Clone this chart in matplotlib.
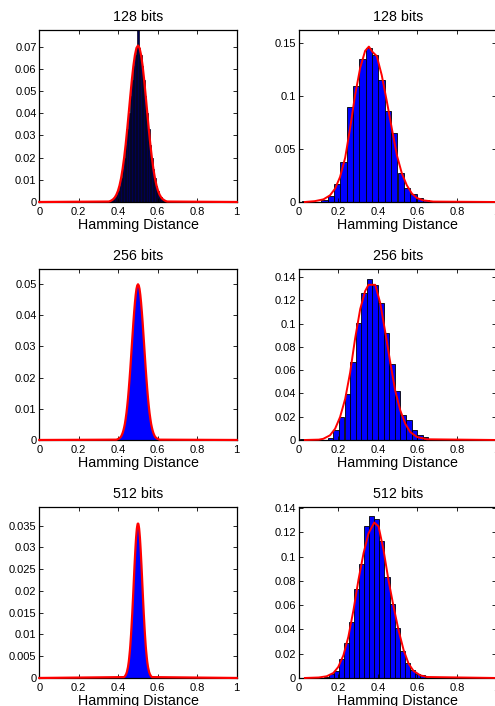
import matplotlib.pyplot as plt
import numpy as np
from matplotlib.ticker import FormatStrFormatter

plt.rcParams['font.family'] = ['Liberation Sans', 'DejaVu Sans']

titles = ['128 bits', '256 bits', '512 bits']
n_bits = [128, 256, 512]
k_first = [45, 100, 220]   # first bit count shown in each fine histogram

# left column: fraction of pairs at each Hamming distance k/n
h128 = [0.0002, 0.0004, 0.0008, 0.0013, 0.0021, 0.0033, 0.0050, 0.0074, 0.0106, 0.0148,
        0.0199, 0.0259, 0.0328, 0.0402, 0.0477, 0.0549, 0.0613, 0.0662, 0.0694, 0.0780,
        0.0694, 0.0662, 0.0613, 0.0549, 0.0477, 0.0402, 0.0328, 0.0259, 0.0199, 0.0148,
        0.0106, 0.0074, 0.0050, 0.0033, 0.0021, 0.0013, 0.0008, 0.0004, 0.0002]
fit128 = [0.0002, 0.0004, 0.0008, 0.0013, 0.0021, 0.0033, 0.0050, 0.0074, 0.0106, 0.0148,
          0.0199, 0.0259, 0.0328, 0.0402, 0.0477, 0.0549, 0.0613, 0.0662, 0.0694, 0.0705,
          0.0694, 0.0662, 0.0613, 0.0549, 0.0477, 0.0402, 0.0328, 0.0259, 0.0199, 0.0148,
          0.0106, 0.0074, 0.0050, 0.0033, 0.0021, 0.0013, 0.0008, 0.0004, 0.0002]

h256 = [0.0001, 0.0002, 0.0003, 0.0004, 0.0006, 0.0008, 0.0011, 0.0016, 0.0022, 0.0030,
        0.0040, 0.0052, 0.0068, 0.0086, 0.0108, 0.0133, 0.0162, 0.0194, 0.0228, 0.0265,
        0.0303, 0.0340, 0.0377, 0.0410, 0.0440, 0.0465, 0.0484, 0.0495, 0.0505, 0.0495,
        0.0484, 0.0465, 0.0440, 0.0410, 0.0377, 0.0340, 0.0303, 0.0265, 0.0228, 0.0194,
        0.0162, 0.0133, 0.0108, 0.0086, 0.0068, 0.0052, 0.0040, 0.0030, 0.0022, 0.0016,
        0.0011, 0.0008, 0.0006, 0.0004, 0.0003, 0.0002, 0.0001]
fit256 = [0.0001, 0.0002, 0.0003, 0.0004, 0.0006, 0.0008, 0.0011, 0.0016, 0.0022, 0.0030,
          0.0040, 0.0052, 0.0068, 0.0086, 0.0108, 0.0133, 0.0162, 0.0194, 0.0228, 0.0265,
          0.0303, 0.0340, 0.0377, 0.0410, 0.0440, 0.0465, 0.0484, 0.0495, 0.0499, 0.0495,
          0.0484, 0.0465, 0.0440, 0.0410, 0.0377, 0.0340, 0.0303, 0.0265, 0.0228, 0.0194,
          0.0162, 0.0133, 0.0108, 0.0086, 0.0068, 0.0052, 0.0040, 0.0030, 0.0022, 0.0016,
          0.0011, 0.0008, 0.0006, 0.0004, 0.0003, 0.0002, 0.0001]

h512 = [0.0002, 0.0003, 0.0004, 0.0005, 0.0007, 0.0008, 0.0011, 0.0013, 0.0017, 0.0021,
        0.0025, 0.0031, 0.0037, 0.0045, 0.0054, 0.0063, 0.0074, 0.0087, 0.0100, 0.0115,
        0.0131, 0.0147, 0.0165, 0.0183, 0.0202, 0.0221, 0.0240, 0.0259, 0.0276, 0.0293,
        0.0308, 0.0322, 0.0333, 0.0343, 0.0349, 0.0354, 0.0360, 0.0354, 0.0349, 0.0343,
        0.0333, 0.0322, 0.0308, 0.0293, 0.0276, 0.0259, 0.0240, 0.0221, 0.0202, 0.0183,
        0.0165, 0.0147, 0.0131, 0.0115, 0.0100, 0.0087, 0.0074, 0.0063, 0.0054, 0.0045,
        0.0037, 0.0031, 0.0025, 0.0021, 0.0017, 0.0013, 0.0011, 0.0008, 0.0007, 0.0005,
        0.0004, 0.0003, 0.0002]
fit512 = [0.0002, 0.0003, 0.0004, 0.0005, 0.0007, 0.0008, 0.0011, 0.0013, 0.0017, 0.0021,
          0.0025, 0.0031, 0.0037, 0.0045, 0.0054, 0.0063, 0.0074, 0.0087, 0.0100, 0.0115,
          0.0131, 0.0147, 0.0165, 0.0183, 0.0202, 0.0221, 0.0240, 0.0259, 0.0276, 0.0293,
          0.0308, 0.0322, 0.0333, 0.0343, 0.0349, 0.0354, 0.0355, 0.0354, 0.0349, 0.0343,
          0.0333, 0.0322, 0.0308, 0.0293, 0.0276, 0.0259, 0.0240, 0.0221, 0.0202, 0.0183,
          0.0165, 0.0147, 0.0131, 0.0115, 0.0100, 0.0087, 0.0074, 0.0063, 0.0054, 0.0045,
          0.0037, 0.0031, 0.0025, 0.0021, 0.0017, 0.0013, 0.0011, 0.0008, 0.0007, 0.0005,
          0.0004, 0.0003, 0.0002]

# right column: coarse histograms (bin centres, heights) and fitted curves
r128_x = [0.033, 0.129, 0.161, 0.193, 0.225, 0.258, 0.290, 0.322, 0.354, 0.386,
          0.418, 0.450, 0.482, 0.515, 0.547, 0.579, 0.611, 0.643, 0.675, 0.707]
r128_h = [0.0008, 0.002, 0.0057, 0.0168, 0.038, 0.090, 0.110, 0.135, 0.146, 0.1386,
          0.1155, 0.086, 0.065, 0.0275, 0.0133, 0.0079, 0.004, 0.0015, 0.0008, 0.0005]
r128_fx = [0.03, 0.08, 0.124, 0.157, 0.183, 0.208, 0.234, 0.259, 0.284, 0.310, 0.335, 0.354,
           0.372, 0.394, 0.419, 0.445, 0.470, 0.496, 0.521, 0.546, 0.572, 0.597, 0.63, 0.68, 1.0]
r128_fy = [0.0, 0.0008, 0.0025, 0.0063, 0.0127, 0.0237, 0.042, 0.070, 0.101, 0.127, 0.143, 0.147,
           0.142, 0.138, 0.120, 0.095, 0.0696, 0.044, 0.027, 0.0158, 0.0079, 0.0038, 0.0015, 0.0004, 0.0]

r256_x = [0.018, 0.160, 0.188, 0.216, 0.245, 0.273, 0.301, 0.330, 0.358, 0.386,
          0.414, 0.443, 0.471, 0.499, 0.528, 0.556, 0.584, 0.613, 0.641, 0.669]
r256_h = [0.0008, 0.002, 0.0089, 0.0197, 0.0397, 0.0669, 0.1006, 0.1263, 0.138, 0.1334,
          0.1174, 0.0917, 0.0651, 0.042, 0.0211, 0.0169, 0.0083, 0.0046, 0.0026, 0.001]
r256_fx = [0.03, 0.10, 0.123, 0.157, 0.183, 0.208, 0.234, 0.259, 0.284, 0.310, 0.335, 0.352,
           0.386, 0.411, 0.437, 0.462, 0.487, 0.513, 0.538, 0.563, 0.597, 0.648, 1.0]
r256_fy = [0.0, 0.0003, 0.001, 0.004, 0.0097, 0.0197, 0.0354, 0.058, 0.087, 0.1126, 0.128, 0.1334,
           0.1334, 0.118, 0.0926, 0.0669, 0.0426, 0.0254, 0.014, 0.0069, 0.0026, 0.0006, 0.0]

r512_x = [0.141, 0.1663, 0.1917, 0.2171, 0.2425, 0.2679, 0.2933, 0.3187, 0.3441, 0.3695, 0.3949,
          0.4203, 0.4457, 0.4711, 0.4965, 0.5219, 0.5473, 0.5727, 0.5981, 0.6235, 0.649]
r512_h = [0.001, 0.0036, 0.0058, 0.0154, 0.0284, 0.0463, 0.073, 0.0937, 0.1248, 0.133, 0.131,
          0.1124, 0.0835, 0.0606, 0.0408, 0.0223, 0.0127, 0.0063, 0.0036, 0.0022, 0.001]
r512_fx = [0.03, 0.10, 0.140, 0.174, 0.199, 0.225, 0.250, 0.276, 0.301, 0.327, 0.352, 0.381,
           0.403, 0.428, 0.453, 0.479, 0.504, 0.530, 0.555, 0.580, 0.614, 0.648, 1.0]
r512_fy = [0.0, 0.0004, 0.0014, 0.0041, 0.0091, 0.0187, 0.0339, 0.056, 0.0807, 0.1028, 0.119, 0.128,
           0.1248, 0.1055, 0.0807, 0.0587, 0.0394, 0.0229, 0.0118, 0.0058, 0.0022, 0.0008, 0.0]
r_width = [0.0321, 0.0283, 0.0254]

left_hist = [h128, h256, h512]
left_fit = [fit128, fit256, fit512]
right_hist = [(r128_x, r128_h), (r256_x, r256_h), (r512_x, r512_h)]
right_fit = [(r128_fx, r128_fy), (r256_fx, r256_fy), (r512_fx, r512_fy)]

left_ylim = [0.0775, 0.0548, 0.0393]
left_yticks = [np.arange(0, 0.071, 0.01), np.arange(0, 0.051, 0.01), np.arange(0, 0.0351, 0.005)]
right_ylim = [0.1627, 0.147, 0.1408]
right_yticks = [[0, 0.05, 0.1, 0.15], np.arange(0, 0.141, 0.02), np.arange(0, 0.141, 0.02)]


def style(ax, title, ylim, yticks):
    ax.set_xlim(0, 1)
    ax.set_ylim(0, ylim)
    ax.set_xticks([0, 0.2, 0.4, 0.6, 0.8, 1])
    ax.set_yticks(yticks)
    ax.xaxis.set_major_formatter(FormatStrFormatter('%g'))
    ax.yaxis.set_major_formatter(FormatStrFormatter('%g'))
    ax.tick_params(direction='in', top=True, right=True, length=3, width=0.6,
                   labelsize=8, colors='black')
    ax.tick_params(axis='x', pad=3.5)
    ax.tick_params(axis='y', pad=2)
    for s in ax.spines.values():
        s.set_linewidth(0.9)
    ax.set_title(title, fontsize=10.3, pad=6.7)
    ax.set_xlabel('Hamming Distance', fontsize=10.3, labelpad=1)


fig = plt.figure(figsize=(4.95, 7.06), dpi=100)
rows = [(0.7139, 0.2436), (0.3768, 0.2422), (0.0397, 0.2422)]

for i in range(3):
    bottom, height = rows[i]

    # fine histogram, one bar per bit count
    ax = fig.add_axes([0.0794, bottom, 0.3988, height])
    n = n_bits[i]
    xk = (k_first[i] + np.arange(len(left_hist[i]))) / n
    if i == 0:
        # narrow bars: the black outlines swamp the fill, giving a dark navy block
        ax.bar(xk, left_hist[i], width=1 / n, color='#000050', edgecolor='#000018', linewidth=0.5)
    else:
        ax.bar(xk, left_hist[i], width=1 / n, color='#0000ff', edgecolor='none')
    ax.plot(np.r_[0, xk, 1], np.r_[0, left_fit[i], 0], color='#ff0000', lw=1.6,
            zorder=3, clip_on=False)
    style(ax, titles[i], left_ylim[i], left_yticks[i])

    # coarse histogram
    ax = fig.add_axes([0.6040, bottom, 0.3990, height])
    bx, bh = right_hist[i]
    ax.bar(bx, bh, width=r_width[i], color='#0000ff', edgecolor='black', linewidth=0.6)
    fx, fy = right_fit[i]
    ax.plot(fx, fy, color='#ff0000', lw=1.4, zorder=3, clip_on=False)
    style(ax, titles[i], right_ylim[i], right_yticks[i])

fig.savefig('out.png', dpi=100)
